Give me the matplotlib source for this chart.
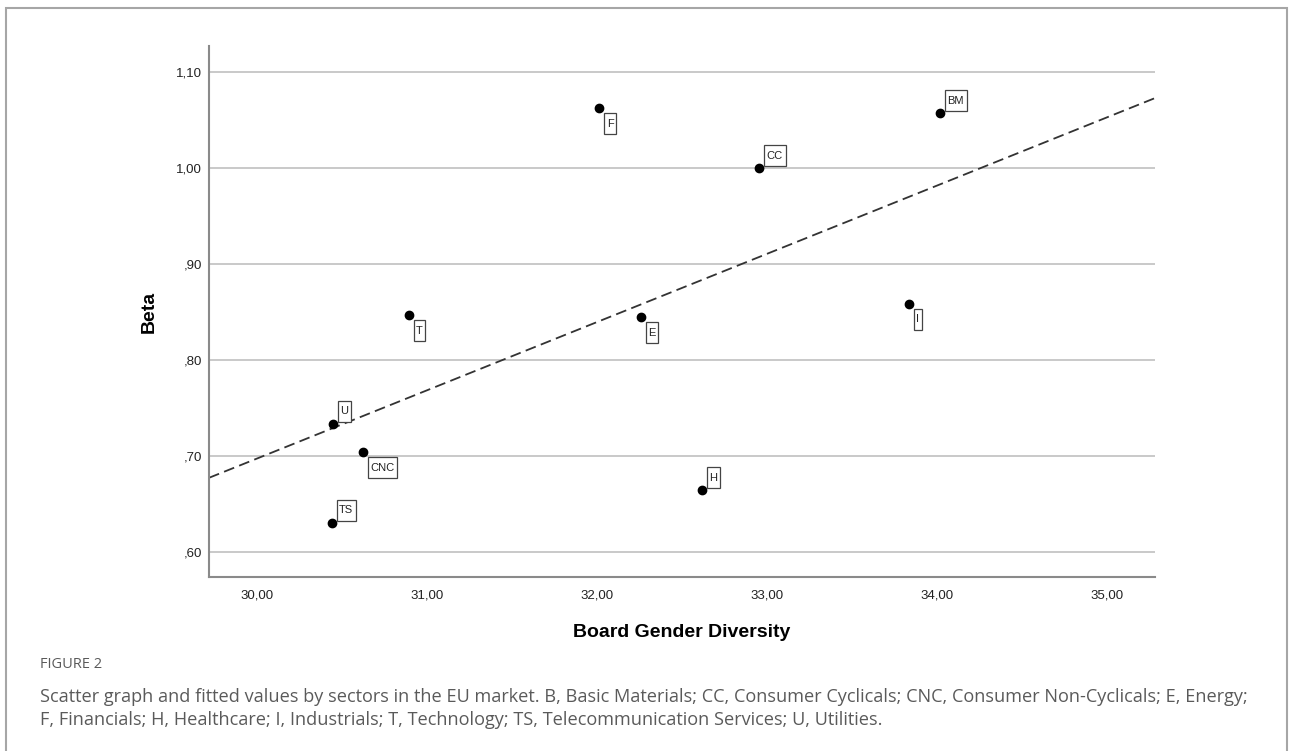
import numpy as np
import matplotlib
matplotlib.use("Agg")
import matplotlib.pyplot as plt
from matplotlib.path import Path
from matplotlib.patches import Rectangle
from matplotlib.ticker import FuncFormatter, MultipleLocator

# sector averages: board gender diversity (%) vs beta
sectors = ["U", "CNC", "TS", "T", "E", "F", "CC", "BM", "I", "H"]
bgd = [30.445, 30.622, 30.439, 30.892, 32.257, 32.014, 32.955, 34.018, 33.833, 32.618]
beta = [0.7335, 0.704, 0.630, 0.8468, 0.8447, 1.0627, 1.000, 1.0571, 0.8586, 0.664]
# sectors whose tag sits above-right of the point (others go below-right)
tag_above = {"U", "TS", "CC", "BM", "H"}

caption_title = "FIGURE 2"
caption_lines = [
    "Scatter graph and fitted values by sectors in the EU market. B, Basic Materials; CC, Consumer Cyclicals; "
    "CNC, Consumer Non-Cyclicals; E, Energy;",
    "F, Financials; H, Healthcare; I, Industrials; T, Technology; TS, Telecommunication Services; U, Utilities.",
]

plt.rcParams["font.family"] = ["Liberation Sans", "DejaVu Sans"]


def tall_box(x0, y0, width, height, mutation_size):
    # rectangle with more vertical than horizontal padding, like SPSS point labels
    px = 0.22 * mutation_size
    py = 0.50 * mutation_size
    x0, y0 = x0 - px, y0 - py
    x1, y1 = x0 + width + 2 * px, y0 + height + 2 * py
    return Path([(x0, y0), (x1, y0), (x1, y1), (x0, y1), (x0, y0)], closed=True)


def comma_fmt(v, pos):
    s = f"{v:.2f}".replace(".", ",")
    if s.startswith("0,"):
        s = s[1:]
    return s


fig = plt.figure(figsize=(12.92, 7.51), dpi=100)
ax = fig.add_axes([209 / 1292, 1 - 577 / 751, (1155 - 209) / 1292, (577 - 46) / 751])

xlo, xhi = 29.718, 35.282
ylo, yhi = 0.5736, 1.1274
ax.set_xlim(xlo, xhi)
ax.set_ylim(ylo, yhi)

ax.yaxis.set_major_locator(MultipleLocator(0.1))
ax.xaxis.set_major_locator(MultipleLocator(1.0))
ax.xaxis.set_major_formatter(FuncFormatter(comma_fmt))
ax.yaxis.set_major_formatter(FuncFormatter(comma_fmt))
ax.grid(axis="y", color="#c9c9c9", lw=1.4)
ax.set_axisbelow(True)
ax.tick_params(length=0, labelsize=9.5, colors="#222222")
ax.tick_params(axis="x", pad=9)
ax.tick_params(axis="y", pad=5)
for side in ["top", "right"]:
    ax.spines[side].set_visible(False)
for side in ["left", "bottom"]:
    ax.spines[side].set_color("#8a8a8a")
    ax.spines[side].set_linewidth(1.5)

# fitted line (OLS) across the whole x range
slope, intercept = np.polyfit(bgd, beta, 1)
xs = np.array([xlo, xhi])
ax.plot(xs, slope * xs + intercept, color="#333333", lw=1.3, dashes=(6, 3), zorder=2)

ax.scatter(bgd, beta, s=36, color="black", zorder=3)

for name, x, y in zip(sectors, bgd, beta):
    if name in tag_above:
        off, va = (5.4, 5.4), "bottom"
    else:
        off, va = (5.4, -7.6), "top"
    ax.annotate(name, (x, y), xytext=off, textcoords="offset points",
                ha="left", va=va, fontsize=8, color="#222222", zorder=4,
                bbox=dict(boxstyle=tall_box, fc="white", ec="#444444", lw=0.9))

ax.set_xlabel("Board Gender Diversity", fontsize=14, fontweight="bold", labelpad=16)
ax.set_ylabel("Beta", fontsize=14, fontweight="bold", labelpad=13)

# outer frame of the figure panel (open at the bottom)
fig.patches.append(Rectangle((6 / 1292, -0.05), (1287 - 6) / 1292, 1.05 - 8 / 751,
                             transform=fig.transFigure, fill=False, ec="#a6a6a6", lw=1.5))

fig.text(40 / 1292, 1 - 665 / 751, caption_title, fontsize=10.5, color="#5a5a5a",
         family=["Open Sans", "DejaVu Sans"], va="center")
for i, line in enumerate(caption_lines):
    fig.text(40 / 1292, 1 - (697 + 23 * i) / 751, line, fontsize=13.1, color="#5a5a5a",
             family=["Open Sans", "DejaVu Sans"], va="center")

fig.savefig("out.png", dpi=100)
